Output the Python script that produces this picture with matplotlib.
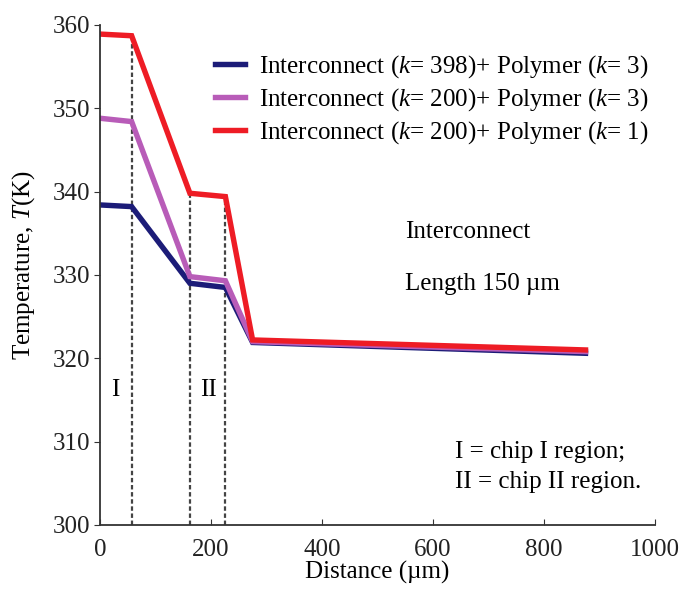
import matplotlib
matplotlib.use("Agg")
import matplotlib.pyplot as plt

plt.rcParams['font.family'] = ['Liberation Serif', 'DejaVu Serif']
plt.rcParams['mathtext.fontset'] = 'custom'
plt.rcParams['mathtext.rm'] = 'Liberation Serif'
plt.rcParams['mathtext.it'] = 'Liberation Serif:italic'

# temperature profiles along the interconnect
distance = [0, 57, 162, 226, 275, 875]
temp_398_3 = [338.4, 338.2, 329.0, 328.5, 321.9, 320.6]
temp_200_3 = [348.8, 348.4, 329.8, 329.3, 322.0, 320.8]
temp_200_1 = [358.9, 358.7, 339.8, 339.4, 322.2, 321.0]

labels = [
    r'Interconnect ($k$= 398)+ Polymer ($k$= 3)',
    r'Interconnect ($k$= 200)+ Polymer ($k$= 3)',
    r'Interconnect ($k$= 200)+ Polymer ($k$= 1)',
]
colors = ['#1c1c78', '#b85cb8', '#ee1c25']

# chip region boundaries
bounds = [57, 162, 226]
bound_top = [358.7, 339.8, 339.4]

fs = 18

fig = plt.figure(figsize=(6.85, 5.89), dpi=100)
ax = fig.add_axes([0.146, 0.1087, 0.81, 0.849])

for b, top in zip(bounds, bound_top):
    ax.plot([b, b], [300, top], color='#444444', lw=1.6, ls=(0, (2, 1.2)), zorder=1)

for y, c, lab in zip([temp_398_3, temp_200_3, temp_200_1], colors, labels):
    ax.plot(distance, y, color=c, lw=3.9, label=lab, solid_joinstyle='miter', zorder=2)

ax.set_xlim(0, 1000)
ax.set_ylim(300, 360)
ax.set_xticks([0, 200, 400, 600, 800, 1000])
ax.set_yticks([300, 310, 320, 330, 340, 350, 360])
ax.spines['top'].set_visible(False)
ax.spines['right'].set_visible(False)
for s in ['left', 'bottom']:
    ax.spines[s].set_color('#333333')
    ax.spines[s].set_linewidth(1.3)
ax.tick_params(axis='x', direction='in', length=4, labelsize=fs, colors='#333333', pad=10)
ax.tick_params(axis='y', direction='out', length=4, labelsize=fs, colors='#333333', pad=3)
for t in ax.get_xticklabels() + ax.get_yticklabels():
    t.set_color('#222222')

ax.set_xlabel('Distance (\u00b5m)', fontsize=fs, labelpad=0)
ax.set_ylabel(r'Temperature, $T$(K)', fontsize=fs)
ax.yaxis.set_label_coords(-0.113, 0.52)

ax.text(550, 335.2, 'Interconnect', fontsize=fs, va='center')
ax.text(550, 328.9, 'Length 150 \u00b5m', fontsize=fs, va='center')
ax.text(27, 316.2, 'I', fontsize=fs, ha='center', va='center')
ax.text(196, 316.2, 'II', fontsize=fs, ha='center', va='center')
ax.text(640, 308.8, 'I = chip I region;', fontsize=fs, va='center')
ax.text(640, 305.2, 'II = chip II region.', fontsize=fs, va='center')

fig.legend(loc='upper left', bbox_to_anchor=(0.314, 0.91), frameon=False,
           fontsize=fs, handlelength=1.2, handletextpad=0.55, labelspacing=0.25,
           borderpad=0, borderaxespad=0)

fig.savefig('out.png', dpi=100)
